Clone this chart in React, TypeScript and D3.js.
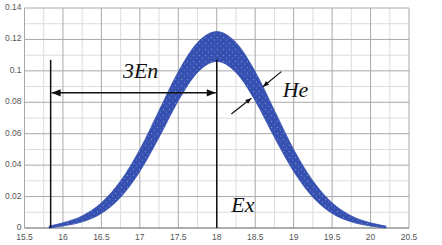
import React from 'react';
import * as d3 from 'd3';

// cloud drop envelope
const dropX = [15.82, 16, 16.25, 16.5, 16.75, 17, 17.25, 17.5, 17.75, 18, 18.25, 18.5, 18.75, 19, 19.25, 19.5, 19.75, 20, 20.2];
const upperY = [0.0012, 0.0033, 0.0077, 0.016, 0.03, 0.05, 0.0748, 0.0995, 0.118, 0.125, 0.118, 0.0995, 0.0748, 0.05, 0.03, 0.016, 0.0077, 0.0033, 0.0012];
const lowerY = [0, 0.0013, 0.0039, 0.0093, 0.0196, 0.036, 0.0577, 0.081, 0.099, 0.106, 0.099, 0.081, 0.0577, 0.036, 0.0196, 0.0093, 0.0039, 0.0013, 0];

const xTicks = [15.5, 16, 16.5, 17, 17.5, 18, 18.5, 19, 19.5, 20, 20.5];
const xTickLabels = ['15.5', '16', '16.5', '17', '17.5', '18', '18.5', '19', '19.5', '20', '20.5'];
const yTicks = [0, 0.02, 0.04, 0.06, 0.08, 0.1, 0.12, 0.14];
const yTickLabels = ['0', '0.02', '0.04', '0.06', '0.08', '0.1', '0.12', '0.14'];

// annotation anchors (data units)
const Ex = 18;
const leftBound = 15.84;
const markerTop = 0.107;
const spanY = 0.086;

const W = 442;
const H = 245;
const margin = { top: 8, right: 33, bottom: 17, left: 24.5 };

export default function App() {
  const x = d3.scaleLinear().domain([15.5, 20.5]).range([margin.left, W - margin.right]);
  const y = d3.scaleLinear().domain([0, 0.14]).range([H - margin.bottom, margin.top]);

  const band = dropX.map((v, i) => ({ x: v, hi: upperY[i], lo: lowerY[i] }));
  const area = d3.area<{ x: number; hi: number; lo: number }>()
    .x(d => x(d.x))
    .y0(d => y(d.lo))
    .y1(d => y(d.hi))
    .curve(d3.curveMonotoneX);

  const minorX = d3.range(15.75, 20.5, 0.5);
  const minorY = d3.range(0.01, 0.14, 0.02);

  const serif = '"Liberation Serif", "DejaVu Serif", serif';

  return (
    <svg width={W} height={H} style={{ position: 'absolute', left: 0, top: 0, background: '#fff' }}
      fontFamily='"Liberation Sans", Arial, sans-serif'>
      <defs>
        <pattern id="speckle" width="6" height="6" patternUnits="userSpaceOnUse">
          <rect width="6" height="6" fill="#3550b0" />
          <circle cx="1.5" cy="1.5" r="0.7" fill="#a9b8ea" opacity="0.55" />
          <circle cx="4.5" cy="4" r="0.6" fill="#c7d2f3" opacity="0.45" />
        </pattern>
        <marker id="ah" viewBox="0 0 10 10" refX="10" refY="5" markerWidth="7" markerHeight="6" orient="auto-start-reverse">
          <path d="M0,1 L10,5 L0,9 z" fill="#111" />
        </marker>
        <marker id="ahs" viewBox="0 0 10 10" refX="10" refY="5" markerWidth="6" markerHeight="5" orient="auto">
          <path d="M0,1 L10,5 L0,9 z" fill="#111" />
        </marker>
      </defs>

      {/* grid */}
      <g>
        {minorX.map(v => (
          <line key={'mx' + v} x1={x(v)} x2={x(v)} y1={y(0)} y2={y(0.14)} stroke="#dcdcdc" strokeWidth={1} />
        ))}
        {minorY.map(v => (
          <line key={'my' + v} x1={x(15.5)} x2={x(20.5)} y1={y(v)} y2={y(v)} stroke="#dcdcdc" strokeWidth={1} />
        ))}
        {xTicks.map(v => (
          <line key={'gx' + v} x1={x(v)} x2={x(v)} y1={y(0)} y2={y(0.14)} stroke="#a8a8a8" strokeWidth={1} />
        ))}
        {yTicks.map(v => (
          <line key={'gy' + v} x1={x(15.5)} x2={x(20.5)} y1={y(v)} y2={y(v)} stroke="#a8a8a8" strokeWidth={1} />
        ))}
        <line x1={x(15.5)} x2={x(20.5)} y1={y(0)} y2={y(0)} stroke="#888" strokeWidth={1.2} />
      </g>

      {/* tick labels */}
      <g fontSize={8.5} fill="#555">
        {yTicks.map((v, i) => (
          <text key={'yl' + v} x={x(15.5) - 3} y={y(v) + 2} textAnchor="end">{yTickLabels[i]}</text>
        ))}
        {xTicks.map((v, i) => (
          <text key={'xl' + v} x={x(v)} y={y(0) + 12} textAnchor="middle">{xTickLabels[i]}</text>
        ))}
      </g>

      {/* cloud drops */}
      <path d={area(band) || ''} fill="url(#speckle)" stroke="#3550b0" strokeWidth={0.8} />

      {/* annotations */}
      <g stroke="#111">
        <line x1={x(leftBound)} x2={x(leftBound)} y1={y(markerTop)} y2={y(0)} strokeWidth={1.5} />
        <line x1={x(Ex)} x2={x(Ex)} y1={y(markerTop)} y2={y(0)} strokeWidth={1.5} />
        <line x1={x(leftBound) + 1} x2={x(Ex) - 1} y1={y(spanY)} y2={y(spanY)} strokeWidth={1.5}
          markerStart="url(#ah)" markerEnd="url(#ah)" />
        <line x1={x(18.84)} y1={y(0.0995)} x2={x(18.6)} y2={y(0.0899)} strokeWidth={1.2} markerEnd="url(#ahs)" />
        <line x1={x(18.19)} y1={y(0.0726)} x2={x(18.45)} y2={y(0.0826)} strokeWidth={1.2} markerEnd="url(#ahs)" />
      </g>
      <g fontFamily={serif} fontStyle="italic" fontSize={22} fill="#111">
        <text x={x(16.78)} y={y(0.0955)}>3En</text>
        <text x={x(18.19)} y={y(0.0102)}>Ex</text>
        <text x={x(18.857)} y={y(0.0834)}>He</text>
      </g>
    </svg>
  );
}
